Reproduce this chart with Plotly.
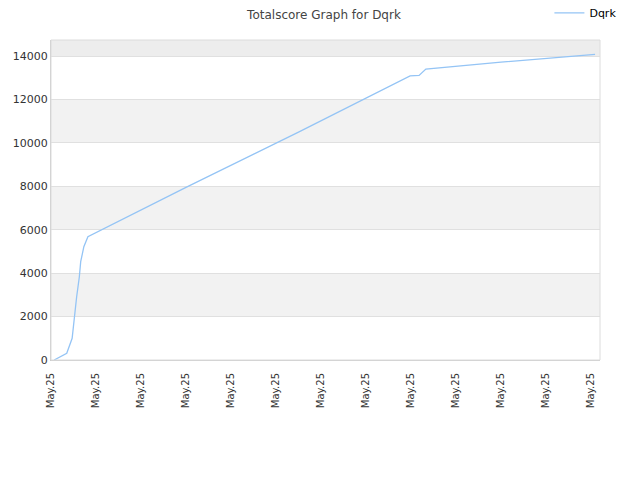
import plotly.graph_objects as go

# data
t_values = [0.07, 0.35, 0.47, 0.52, 0.57, 0.63, 0.66, 0.73, 0.82, 3.0, 5.5, 7.98, 8.18, 8.33, 10.0, 12.09]
scores = [0, 310, 1000, 2070, 2915, 3836, 4527, 5217, 5680, 7950, 10500, 13090, 13110, 13400, 13720, 14078]
tick_pos = list(range(13))
tick_labels = ["May.25"] * 13
y_ticks = [0, 2000, 4000, 6000, 8000, 10000, 12000, 14000]
y_tick_labels = ["0", "2000", "4000", "6000", "8000", "10000", "12000", "14000"]
series_name = "Dqrk"
y_max = 14740
band_edges = [0, 2000, 4000, 6000, 8000, 10000, 12000, 14000, y_max]

fig = go.Figure()
fig.add_trace(go.Scatter(x=t_values, y=scores, mode="lines", name=series_name,
                         line=dict(color="rgb(148,196,245)", width=1.3)))

shapes = []
for i in range(len(band_edges) - 1):
    if i % 2 == 1:
        color = "#ededed" if band_edges[i] == 14000 else "#f2f2f2"
        shapes.append(dict(type="rect", xref="paper", yref="y", x0=0, x1=1,
                           y0=band_edges[i], y1=band_edges[i + 1], fillcolor=color,
                           line=dict(width=0), layer="below"))
shapes.append(dict(type="rect", xref="paper", yref="paper", x0=0, x1=1, y0=0, y1=1,
                   line=dict(color="#dcdcdc", width=1), layer="above"))

fig.update_layout(
    width=632, height=472,
    margin=dict(l=43, r=40, t=32, b=120, autoexpand=False),
    paper_bgcolor="white", plot_bgcolor="white",
    font=dict(family="DejaVu Sans", size=11, color="#333"),
    title=dict(text="Totalscore Graph for Dqrk", x=0.5, xanchor="center", yref="container",
               y=0.985, yanchor="middle", font=dict(size=12, color="#444")),
    showlegend=True,
    legend=dict(x=1.039, xanchor="right", y=1.13, yanchor="top", bgcolor="rgba(0,0,0,0)",
                font=dict(size=11, color="#000")),
    shapes=shapes,
    xaxis=dict(range=[0, 12.2], tickmode="array", tickvals=tick_pos, ticktext=tick_labels,
               tickangle=-90, showgrid=False, zeroline=False, showline=True, linecolor="#cccccc",
               ticks="", ticklabelstandoff=8, automargin=False, tickfont=dict(size=10, color="#333")),
    yaxis=dict(range=[0, y_max], tickmode="array", tickvals=y_ticks, ticktext=y_tick_labels,
               showgrid=True, gridcolor="#e0e0e0", zeroline=False, showline=True, linecolor="#cccccc",
               ticks="", automargin=False, tickfont=dict(size=11, color="#333")),
)

fig.write_html("out.html")
